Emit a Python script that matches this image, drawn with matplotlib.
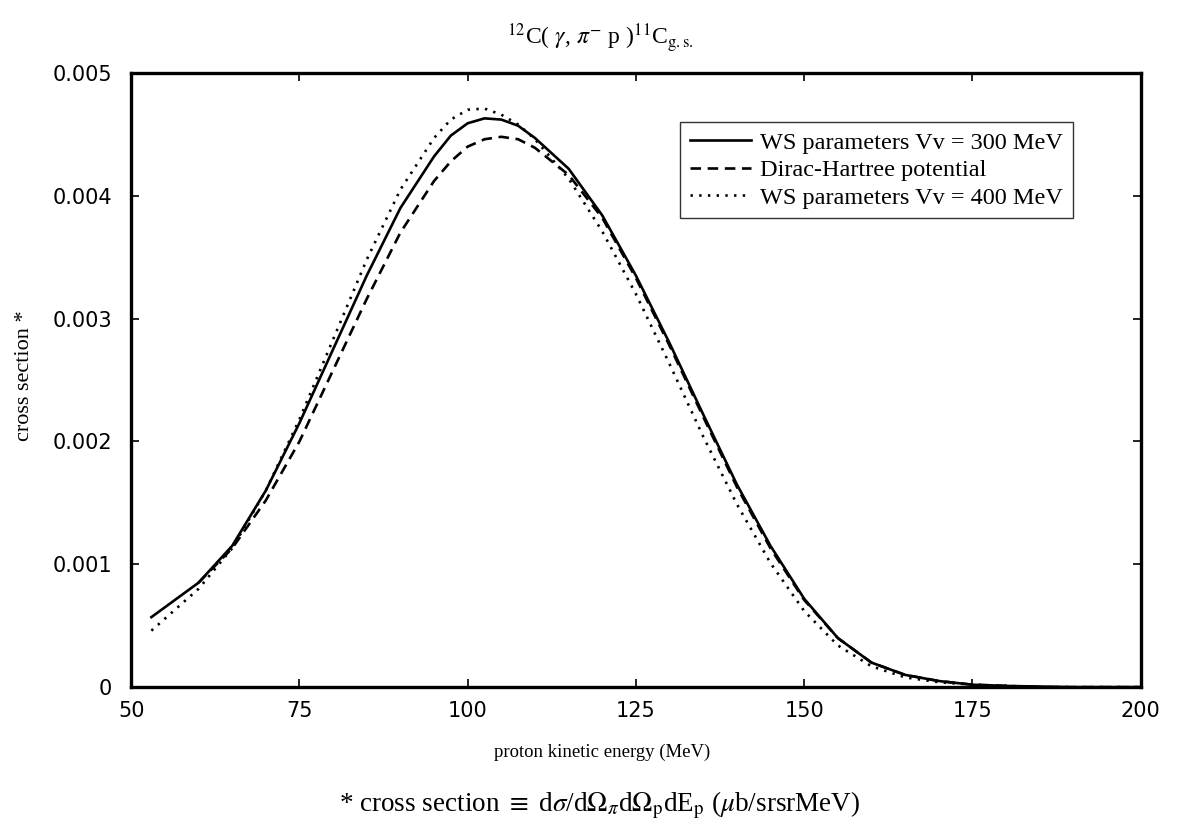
import numpy as np
import matplotlib
matplotlib.use("Agg")
import matplotlib.pyplot as plt

# --- data ---
energy_ws300 = [53, 60, 65, 70, 75, 80, 85, 90, 95, 97.5, 100, 102.5, 105, 107.5, 110,
                115, 120, 125, 130, 135, 140, 145, 150, 155, 160, 165, 170, 175, 180,
                190, 200]
xs_ws300 = [0.00057, 0.00085, 0.00115, 0.00160, 0.00215, 0.00275, 0.00335, 0.00390,
            0.00432, 0.00449, 0.00459, 0.00463, 0.00462, 0.00457, 0.00447,
            0.00422, 0.00384, 0.00335, 0.00280, 0.00222, 0.00165, 0.00115, 0.00072,
            0.00040, 0.00020, 0.00010, 0.00005, 0.00002, 0.00001, 0.0, 0.0]

energy_dh = [60, 65, 70, 75, 80, 85, 90, 95, 97.5, 100, 102.5, 105, 107.5, 110,
             115, 120, 125, 130, 135, 140, 145, 150, 155, 160, 165, 170, 175, 185, 200]
xs_dh = [0.00085, 0.00113, 0.00152, 0.00200, 0.00258, 0.00316, 0.00370, 0.00412,
         0.00428, 0.00440, 0.00446, 0.00448, 0.00446, 0.00439,
         0.00417, 0.00382, 0.00333, 0.00278, 0.00220, 0.00163, 0.00113, 0.00071,
         0.00040, 0.00020, 0.00010, 0.00005, 0.00002, 0.0, 0.0]

energy_ws400 = [53, 60, 65, 70, 75, 80, 85, 90, 95, 97.5, 100, 102.5, 105, 107.5, 110,
                115, 120, 125, 130, 135, 140, 145, 150, 155, 160, 165, 170, 175, 185, 200]
xs_ws400 = [0.00046, 0.00080, 0.00113, 0.00160, 0.00218, 0.00283, 0.00348, 0.00405,
            0.00447, 0.00462, 0.00470, 0.00471, 0.00466, 0.00458, 0.00446,
            0.00414, 0.00371, 0.00320, 0.00263, 0.00204, 0.00149, 0.00101, 0.00062,
            0.00034, 0.00017, 0.00008, 0.00004, 0.00002, 0.0, 0.0]

x_ticks = [50, 75, 100, 125, 150, 175, 200]
y_ticks = [0, 0.001, 0.002, 0.003, 0.004, 0.005]
y_tick_labels = ["0", "0.001", "0.002", "0.003", "0.004", "0.005"]

serif = "Liberation Serif"
sans = "DejaVu Sans"
plt.rcParams["mathtext.fontset"] = "stix"

fig = plt.figure(figsize=(11.82, 8.38), dpi=100)
ax = fig.add_axes([0.111, 0.180, 0.854, 0.733])

ax.plot(energy_ws300, xs_ws300, color="black", lw=1.9, ls="-",
        label="WS parameters Vv = 300 MeV")
ax.plot(energy_dh, xs_dh, color="black", lw=1.9, ls=(0, (4, 2.5)),
        label="Dirac-Hartree potential")
ax.plot(energy_ws400, xs_ws400, color="black", lw=1.9, ls=(0, (0.9, 2.4)),
        label="WS parameters Vv = 400 MeV")

ax.set_xlim(50, 200)
ax.set_ylim(0, 0.005)
ax.set_xticks(x_ticks)
ax.set_yticks(y_ticks)
ax.set_yticklabels(y_tick_labels)
ax.tick_params(direction="in", length=6, width=1.2, top=True, right=True,
               labelsize=15, pad=14)
ax.tick_params(axis="x", pad=10)
for lab in ax.get_xticklabels() + ax.get_yticklabels():
    lab.set_fontfamily(sans)
for sp in ax.spines.values():
    sp.set_linewidth(2.4)

# axis labels placed as figure text to match the reference position
fig.text(602 / 1182, 1 - 752 / 838, "proton kinetic energy (MeV)",
         ha="center", va="center", fontfamily=serif, fontsize=13.5)
fig.text(25 / 1182, 1 - 376 / 838, "cross section *", rotation=90,
         ha="center", va="center", fontfamily=serif, fontsize=16)

leg = ax.legend(loc="upper right", bbox_to_anchor=(0.933, 0.92),
                prop={"family": serif, "size": 17.5}, frameon=True,
                fancybox=False, handlelength=2.5, handletextpad=0.4,
                borderpad=0.4, labelspacing=0.22, borderaxespad=0)
leg.get_frame().set_edgecolor("black")
leg.get_frame().set_linewidth(1.0)

fig.text(600 / 1182, 1 - 38 / 838,
         r"$^{12}$C( $\gamma$, $\pi^{-}$ p )$^{11}$C$_{\rm g.s.}$",
         ha="center", va="center", fontfamily=serif, fontsize=17)
fig.text(600 / 1182, 1 - 805 / 838,
         r"* cross section $\equiv$ d$\sigma$/d$\Omega_{\pi}$d$\Omega_{\rm p}$dE$_{\rm p}$ ($\mu$b/srsrMeV)",
         ha="center", va="center", fontfamily=serif, fontsize=19.5)

fig.savefig("out.png", dpi=100)
